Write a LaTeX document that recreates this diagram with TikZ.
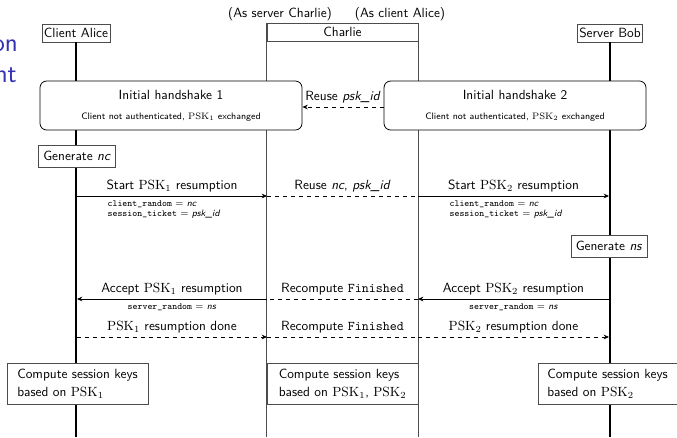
\documentclass[tikz,border=0pt]{standalone}
\usetikzlibrary{arrows.meta}
\definecolor{titleblue}{RGB}{51,51,179}
\definecolor{framegray}{gray}{0.3}
\newcommand{\pskn}[1]{\ensuremath{\mathrm{PSK}_{#1}}}
\begin{document}
\begin{tikzpicture}[x=0.75pt,y=-0.75pt,font=\sffamily,
  actor/.style={draw=framegray,line width=0.6pt,fill=white,inner xsep=1.5pt,inner ysep=0pt,minimum height=13.5pt},
  life/.style={line width=1.1pt},
  cline/.style={draw=framegray,line width=0.5pt},
  hsbox/.style={draw=black,line width=0.6pt,rounded corners=5pt,fill=white,minimum width=196.5pt,minimum height=36.75pt,align=center},
  stepbox/.style={draw=framegray,line width=0.6pt,fill=white,inner xsep=3.5pt,inner ysep=0pt,minimum height=16.5pt},
  keybox/.style={draw=framegray,line width=0.6pt,fill=white,align=left,minimum height=30.75pt},
  msg/.style={line width=0.6pt,-{Stealth[length=4pt,width=3.5pt]}},
  relay/.style={line width=0.6pt,dashed},
  lbl/.style={above,inner sep=2.5pt},
  field/.style={font=\sffamily\scriptsize,inner sep=1pt}]
\useasboundingbox (0,0) rectangle (677,437);

% fragments of the slide title behind the chart
\node[font=\sffamily\fontsize{20}{24}\selectfont,text=titleblue,anchor=base east,inner sep=0pt] (tl1) at (18,51) {on};
\node[font=\sffamily\fontsize{20}{24}\selectfont,text=titleblue,anchor=base east,inner sep=0pt] (tl2) at (17,82) {nt};

% bottom edge and lifeline positions
\coordinate (bot) at (0,437);
\coordinate (A) at (77,0);
\coordinate (C1) at (267,0);
\coordinate (C2) at (418,0);
\coordinate (B) at (609,0);

% participants
\node[actor] (alice) at (76,33) {Client Alice};
\node[actor] (bob) at (610,33) {Server Bob};
\node[actor,minimum width=113.25pt,inner xsep=0pt] (charlie) at (342.5,32) {Charlie};
\node[inner sep=0pt] (asserver) at (280,14) {(As server Charlie)};
\node[inner sep=0pt] (asclient) at (400,14) {(As client Alice)};

% lifelines
\draw[life] (alice.south) -- (alice.south |- bot);
\draw[life] (bob.south) -- (bob.south |- bot);
\draw[cline] (charlie.north west) -- (charlie.west |- bot);
\draw[cline] (charlie.north east) -- (charlie.east |- bot);

% initial handshakes
\node[hsbox] (hs1) at (171,105.5) {Initial handshake 1\\[3pt]\scriptsize Client not authenticated, \pskn{1} exchanged};
\node[hsbox] (hs2) at (515,105.5) {Initial handshake 2\\[3pt]\scriptsize Client not authenticated, \pskn{2} exchanged};
\draw[relay,-{Stealth[length=4pt,width=3.5pt]}] (hs2.west |- 0,107) -- node[lbl] {Reuse \textit{psk\_id}} (hs1.east |- 0,107);

% client hello
\node[stepbox] (gnc) at (77,156) {Generate \textit{nc}};
\draw[msg] (A |- 0,196) -- node[lbl] {Start \pskn{1} resumption} (C1 |- 0,196);
\draw[relay] (C1 |- 0,196) -- node[lbl] {Reuse \textit{nc}, \textit{psk\_id}} (C2 |- 0,196);
\draw[msg] (C2 |- 0,196) -- node[lbl] {Start \pskn{2} resumption} (B |- 0,196);
\node[field,anchor=north west,align=left] (f1) at (106,199) {\texttt{client\_random} $=$ \textit{nc}\\\texttt{session\_ticket} $=$ \textit{psk\_id}};
\node[field,anchor=north west,align=left] (f2) at (448,199) {\texttt{client\_random} $=$ \textit{nc}\\\texttt{session\_ticket} $=$ \textit{psk\_id}};

% server hello
\node[stepbox] (gns) at (609,246) {Generate \textit{ns}};
\draw[msg] (B |- 0,299) -- node[lbl] {Accept \pskn{2} resumption} node[field,below=2pt] (f4) {\texttt{server\_random} $=$ \textit{ns}} (C2 |- 0,299);
\draw[relay] (C2 |- 0,299) -- node[lbl] {Recompute \texttt{Finished}} (C1 |- 0,299);
\draw[msg] (C1 |- 0,299) -- node[lbl] {Accept \pskn{1} resumption} node[field,below=2pt] (f3) {\texttt{server\_random} $=$ \textit{ns}} (A |- 0,299);

% finished
\draw[msg,dashed] (A |- 0,337) -- node[lbl] {\pskn{1} resumption done} (C1 |- 0,337);
\draw[relay] (C1 |- 0,337) -- node[lbl] {Recompute \texttt{Finished}} (C2 |- 0,337);
\draw[msg,dashed] (C2 |- 0,337) -- node[lbl] {\pskn{2} resumption done} (B |- 0,337);

% session keys
\node[keybox,minimum width=105.75pt] (ka) at (77.5,383.5) {Compute session keys\\[1.5pt]based on \pskn{1}};
\node[keybox,minimum width=113.25pt] (kc) at (342.5,383.5) {Compute session keys\\[1.5pt]based on \pskn{1}, \pskn{2}};
\node[keybox,minimum width=104.25pt] (kb) at (607.5,383.5) {Compute session keys\\[1.5pt]based on \pskn{2}};
\end{tikzpicture}
\end{document}
